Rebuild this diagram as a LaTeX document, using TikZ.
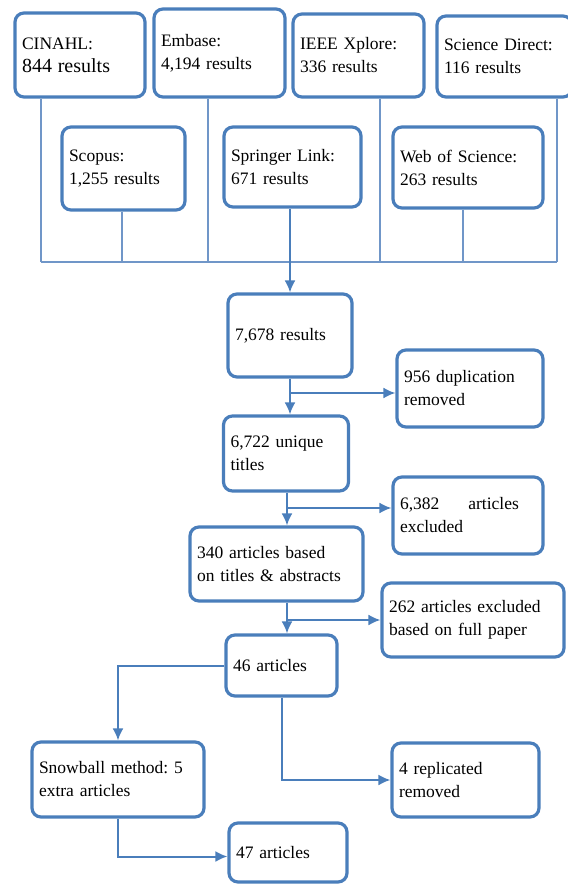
\documentclass[tikz,border=0pt]{standalone}
\usepackage{fontspec}
\setmainfont{Liberation Serif}
\frenchspacing
\usetikzlibrary{arrows.meta}
\definecolor{boxblue}{RGB}{74,126,187}
\definecolor{linkblue}{RGB}{112,150,200}

\begin{document}
\begin{tikzpicture}[>={Latex[length=12pt,width=11pt]}, x=1pt, y=-1pt]

\tikzstyle{box}=[draw=boxblue, line width=3.2pt, rounded corners=9pt, fill=white, inner xsep=7pt, inner ysep=2pt, align=left, font=\fontsize{17.5}{23}\selectfont]
\tikzstyle{arrow}=[->, color=boxblue, line width=2pt]
\tikzstyle{feed}=[draw=linkblue, line width=1.3pt]

\path[fill=white] (0,0) rectangle (567,885);
\useasboundingbox (0,0) rectangle (567,885);

% Top row: databases
\node[box, text width=116pt, minimum height=84pt] (cinahl) at (80,55) {CINAHL:\\{\fontsize{20}{23}\selectfont 844 results}};
\node[box, text width=117pt, minimum height=88pt] (embase) at (219.5,53) {Embase:\\4,194 results};
\node[box, text width=117pt, minimum height=83pt] (ieee) at (358.5,55.5) {IEEE Xplore:\\336 results};
\node[box, text width=121pt, minimum height=81pt] (scidir) at (504.5,56.5) {Science Direct:\\116 results};

% Second row: databases
\node[box, text width=109pt, minimum height=83pt] (scopus) at (123.5,168.5) {Scopus:\\1,255 results};
\node[box, text width=123pt, minimum height=80pt] (springer) at (292.5,167) {Springer Link:\\671 results};
\node[box, text width=136pt, minimum height=81pt] (wos) at (468,167.5) {Web of Science:\\263 results};

% Collecting line
\coordinate (busL) at (41,262);
\coordinate (busR) at (557,262);
\draw[feed] (busL) -- (busR);
\draw[feed] ([xshift=-39pt]cinahl.south) -- ([xshift=-39pt]cinahl.south |- busL);
\draw[feed] ([xshift=-1.5pt]scopus.south) -- ([xshift=-1.5pt]scopus.south |- busL);
\draw[feed] ([xshift=-11.5pt]embase.south) -- ([xshift=-11.5pt]embase.south |- busL);
\draw[feed] ([xshift=21.5pt]ieee.south) -- ([xshift=21.5pt]ieee.south |- busL);
\draw[feed] ([xshift=-5pt]wos.south) -- ([xshift=-5pt]wos.south |- busL);
\draw[feed] ([xshift=52.5pt]scidir.south) -- ([xshift=52.5pt]scidir.south |- busR);

% Screening steps
\node[box, text width=110pt, minimum height=83pt] (res) at (290,335.5) {7,678 results};
\node[box, text width=132pt, minimum height=77pt] (dup) at (470,388.5) {956 duplication\\removed};
\node[box, text width=111pt, minimum height=75pt] (uniq) at (286,453.5) {6,722 unique\\titles};
\node[box, text width=136pt, minimum height=77pt] (excl) at (468,515.5) {6,382\hspace{29pt}articles\\excluded};
\node[box, text width=159pt, minimum height=74pt] (abst) at (276.5,564) {340 articles based\\on titles \& abstracts};
\node[box, text width=168pt, minimum height=74pt] (full) at (473,620) {262 articles excluded\\based on full paper};
\node[box, text width=97pt, minimum height=61pt] (art46) at (281.5,665.5) {46 articles};

% Last step
\node[box, text width=158pt, minimum height=75pt] (snow) at (118,779.5) {Snowball method: 5\\extra articles};
\node[box, text width=133pt, minimum height=74pt] (repl) at (465.5,780) {4 replicated\\removed};
\node[box, text width=104pt, minimum height=59pt] (art47) at (288,852.5) {47 articles};

% Arrows
\coordinate (spine) at (287,0);
\draw[arrow] (springer.south -| res.north) -- (res.north);
\draw[arrow] (res.south) -- (res.south |- uniq.north);
\draw[arrow] ([yshift=-4.5pt]dup.west -| res.south) -- ([yshift=-4.5pt]dup.west);
\draw[arrow] (uniq.south -| spine) -- (abst.north -| spine);
\draw[arrow] ([yshift=7.5pt]excl.west -| spine) -- ([yshift=7.5pt]excl.west);
\draw[arrow] (abst.south -| spine) -- (art46.north -| spine);
\draw[arrow] (full.west -| spine) -- (full.west);
\draw[arrow] (art46.west) -| (snow.north);
\draw[arrow] (art46.south) |- (repl.west);
\draw[arrow] (snow.south) |- ([yshift=-4pt]art47.west);

\end{tikzpicture}
\end{document}
